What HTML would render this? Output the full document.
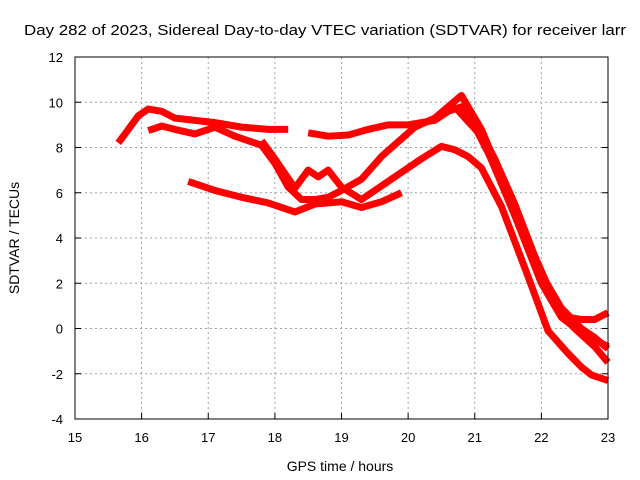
<!DOCTYPE html>
<html><head><meta charset="utf-8"><style>
body{margin:0;background:#fff}
svg{display:block;font-family:"Liberation Sans",sans-serif}
</style></head><body>
<svg id="chart" width="640" height="480" viewBox="0 0 640 480">
<rect width="640" height="480" fill="#fff"/>
<text x="24" y="35" font-size="15" textLength="602" lengthAdjust="spacingAndGlyphs">Day 282 of 2023, Sidereal Day-to-day VTEC variation (SDTVAR) for receiver larr</text>
<g id="grid"></g>
<g id="series"></g>
<rect x="75" y="57" width="533" height="362" fill="none" stroke="#000" stroke-width="1"/>
<g id="ticks"></g>
<text x="340" y="471" font-size="14" text-anchor="middle">GPS time / hours</text>
<text transform="translate(19,238) rotate(-90)" font-size="14" text-anchor="middle">SDTVAR / TECUs</text>
</svg>
<script>
const xTicks=[15,16,17,18,19,20,21,22,23];
const yTicks=[-4,-2,0,2,4,6,8,10,12];
const traceA1=[[15.65,8.2],[15.8,8.8],[15.95,9.4],[16.1,9.7],[16.3,9.6],[16.5,9.3],[16.8,9.2],[17.1,9.1],[17.5,8.9],[17.9,8.8],[18.2,8.8]];
const traceA2=[[18.5,8.65],[18.8,8.5],[19.1,8.55],[19.4,8.8],[19.7,9.0],[20.0,9.0],[20.4,9.2],[20.6,9.6],[20.8,9.8],[21.0,9.2],[21.3,7.5],[21.6,5.5],[21.9,3.2],[22.2,1.2],[22.4,0.5],[22.6,0.4],[22.8,0.4],[23.0,0.7]];
const traceB=[[16.1,8.75],[16.3,8.95],[16.5,8.8],[16.8,8.6],[17.1,8.9],[17.4,8.5],[17.8,8.1],[18.0,7.3],[18.2,6.25],[18.4,5.7],[18.6,5.7],[18.8,5.8],[19.0,6.1],[19.3,6.6],[19.6,7.6],[20.1,8.9],[20.4,9.3],[20.6,9.8],[20.8,10.3],[21.1,8.8],[21.5,6.0],[21.9,3.0],[22.2,1.0],[22.5,0.0],[22.8,-0.8],[23.0,-1.5]];
const traceC=[[17.8,8.3],[18.0,7.5],[18.3,6.2],[18.5,7.0],[18.65,6.7],[18.8,7.0],[19.0,6.25],[19.3,5.7],[19.6,6.3],[19.9,6.9],[20.2,7.5],[20.5,8.05],[20.7,7.9],[20.9,7.6],[21.1,7.1],[21.4,5.4],[21.8,2.3],[22.1,-0.1],[22.4,-1.1],[22.6,-1.7],[22.75,-2.05],[23.0,-2.3]];
const traceD=[[16.7,6.5],[17.1,6.1],[17.5,5.8],[17.9,5.55],[18.3,5.15],[18.6,5.5],[19.0,5.6],[19.3,5.35],[19.6,5.6],[19.9,6.0]];
const traceE=[[20.7,9.8],[21.1,8.5],[21.6,5.0],[22.0,2.0],[22.3,0.5],[22.6,-0.2],[23.0,-0.8]];
const traceF=[[20.9,9.5],[21.3,7.2],[21.7,4.4],[22.0,2.4],[22.3,0.9],[22.6,0.0],[22.8,-0.4],[23.0,-0.9]];
const traces=[traceA1,traceA2,traceB,traceC,traceD,traceE,traceF];
const NS="http://www.w3.org/2000/svg";
const X0=75,X1=608,Y0=419,Y1=57;
const sx=t=>X0+(t-15)/8*(X1-X0);
const sy=v=>Y0-(v+4)/16*(Y0-Y1);
const grid=document.getElementById('grid'),ticks=document.getElementById('ticks'),series=document.getElementById('series');
function mk(tag,attrs,parent){const e=document.createElementNS(NS,tag);for(const k in attrs)e.setAttribute(k,attrs[k]);parent.appendChild(e);return e;}
xTicks.forEach(t=>{const x=sx(t);
 if(t>15&&t<23){const g=mk('line',{x1:x,x2:x,y1:Y0,y2:Y1,stroke:'#a0a0a0','stroke-dasharray':'2,3'},grid);
 
 }
 const tk=mk('line',{x1:x,x2:x,y1:Y0,y2:Y0-6,stroke:'#000'},ticks);
 
 
 const lb=mk('text',{x:x,y:442,'font-size':13,'text-anchor':'middle'},ticks);lb.textContent=t;
 
 
});
yTicks.forEach(v=>{const y=sy(v);
 if(v>-4&&v<12){const g=mk('line',{x1:X0,x2:X1,y1:y,y2:y,stroke:'#a0a0a0','stroke-dasharray':'2,3'},grid);
 
 }
 const tk=mk('line',{x1:X0,x2:X0+6,y1:y,y2:y,stroke:'#000'},ticks);
 
 
 const tk2=mk('line',{x1:X1,x2:X1-6,y1:y,y2:y,stroke:'#000'},ticks);
 
 
 const lb=mk('text',{x:63,y:y+5,'font-size':13,'text-anchor':'end'},ticks);lb.textContent=v;
 
 
});
traces.forEach(tr=>{
 const p=mk('polyline',{points:tr.map(d=>sx(d[0])+','+sy(d[1])).join(' '),fill:'none',stroke:'#ff0000','stroke-width':7,'stroke-linejoin':'round','stroke-linecap':'butt'},series);
 
 
});
</script>
</body></html>
